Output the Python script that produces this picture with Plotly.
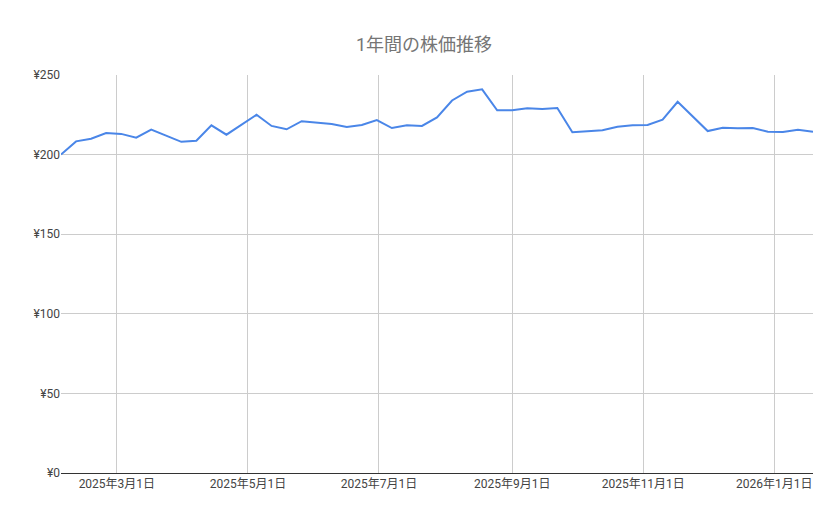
import plotly.graph_objects as go
import pandas as pd

dates = pd.date_range("2025-02-03", periods=51, freq="7D")
prices = [200, 208.3, 210, 213.6, 213, 210.6, 215.7, 211.9, 208, 208.7,
          218.4, 212.5, 219, 225, 218, 215.9, 221, 219.9, 219.2, 217.3,
          218.6, 221.7, 216.7, 218.4, 218, 223.4, 234, 239.5, 241, 227.8,
          227.8, 229.1, 228.6, 229.3, 214, 214.6, 215.3, 217.5, 218.4, 218.6,
          221.9, 233.2, 224, 214.8, 216.9, 216.5, 216.7, 214.4, 214.2, 215.6, 214.4]
tick_dates = ["2025-03-01", "2025-05-01", "2025-07-01", "2025-09-01", "2025-11-01", "2026-01-01"]
tick_text = ["2025年3月1日", "2025年5月1日", "2025年7月1日", "2025年9月1日", "2025年11月1日", "2026年1月1日"]
y_ticks = [0, 50, 100, 150, 200, 250]

fig = go.Figure(go.Scatter(x=dates, y=prices, mode="lines",
                           line=dict(color="#4a86e8", width=2)))
font = "Roboto, 'Noto Sans CJK JP', sans-serif"
fig.update_layout(
    width=832, height=512, paper_bgcolor="white", plot_bgcolor="white",
    margin=dict(l=53, r=27, t=67, b=47),
    title=dict(text="1年間の株価推移", x=0.5, xanchor="center", y=0.94,
               font=dict(family=font, size=18, color="#757575")),
    font=dict(family=font, size=12, color="#444"),
    showlegend=False,
)
fig.update_xaxes(range=[dates[0], dates[-1]], tickvals=tick_dates, ticktext=tick_text,
                 showgrid=True, gridcolor="#cccccc", showline=True, linecolor="#333",
                 ticks="", tickfont=dict(size=12, color="#444"))
fig.update_yaxes(range=[0, 250], tickvals=y_ticks, ticktext=["¥" + str(v) for v in y_ticks],
                 showgrid=True, gridcolor="#cccccc", zeroline=False, ticks="",
                 tickfont=dict(size=12, color="#444"))
fig.write_html("out.html")
